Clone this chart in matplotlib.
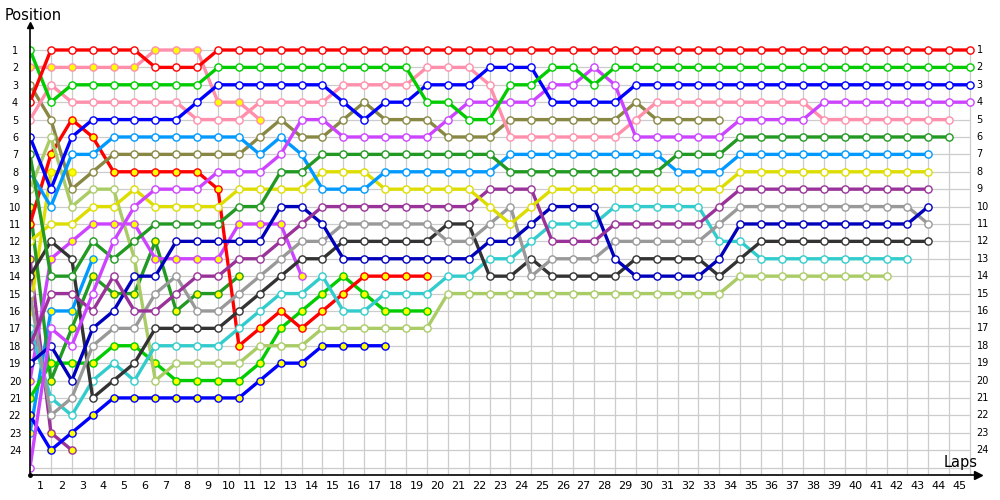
import matplotlib
matplotlib.use("Agg")
import matplotlib.pyplot as plt

laps = list(range(1, 46))
positions = list(range(1, 25))

# position per lap index (index 0 = starting grid)
red_1 = [4, 1, 1, 1, 1, 1, 2, 2, 2, 1,
         1, 1, 1, 1, 1, 1, 1, 1, 1, 1,
         1, 1, 1, 1, 1, 1, 1, 1, 1, 1,
         1, 1, 1, 1, 1, 1, 1, 1, 1, 1,
         1, 1, 1, 1, 1, 1]
lime_1 = [1, 4, 3, 3, 3, 3, 3, 3, 3, 2,
          2, 2, 2, 2, 2, 2, 2, 2, 2, 4,
          4, 5, 5, 3, 3, 2, 2, 3, 2, 2,
          2, 2, 2, 2, 2, 2, 2, 2, 2, 2,
          2, 2, 2, 2, 2, 2]
blue_1 = [6, 9, 6, 5, 5, 5, 5, 5, 4, 3,
          3, 3, 3, 3, 3, 4, 5, 4, 4, 3,
          3, 3, 2, 2, 2, 4, 4, 4, 4, 3,
          3, 3, 3, 3, 3, 3, 3, 3, 3, 3,
          3, 3, 3, 3, 3, 3]
violet_1 = [25, 17, 18, 15, 12, 10, 9, 9, 9, 8,
            8, 8, 7, 5, 5, 6, 6, 6, 6, 6,
            5, 4, 4, 4, 4, 3, 3, 2, 3, 6,
            6, 6, 6, 6, 5, 5, 5, 5, 4, 4,
            4, 4, 4, 4, 4, 4]
pink_2 = [5, 3, 4, 4, 4, 4, 4, 4, 5, 5,
          5, 4, 4, 4, 4, 3, 3, 3, 3, 2,
          2, 2, 3, 6, 6, 6, 6, 6, 6, 5,
          4, 4, 4, 4, 4, 4, 4, 4, 5, 5,
          5, 5, 5, 5, 5]
forest_1 = [7, 14, 14, 12, 13, 12, 11, 11, 11, 11,
            10, 10, 8, 8, 7, 7, 7, 7, 7, 7,
            7, 7, 7, 8, 8, 8, 8, 8, 8, 8,
            8, 7, 7, 7, 6, 6, 6, 6, 6, 6,
            6, 6, 6, 6, 6]
azure_1 = [8, 10, 7, 7, 6, 6, 6, 6, 6, 6,
           6, 7, 6, 7, 9, 9, 9, 8, 8, 8,
           8, 8, 8, 7, 7, 7, 7, 7, 7, 7,
           7, 8, 8, 8, 7, 7, 7, 7, 7, 7,
           7, 7, 7, 7]
yellow_1 = [12, 11, 11, 10, 10, 9, 10, 10, 10, 10,
            9, 9, 9, 9, 8, 8, 8, 9, 9, 9,
            9, 9, 10, 11, 10, 9, 9, 9, 9, 9,
            9, 9, 9, 9, 8, 8, 8, 8, 8, 8,
            8, 8, 8, 8]
plum_1 = [18, 15, 15, 16, 14, 16, 16, 15, 14, 14,
          13, 13, 12, 11, 10, 10, 10, 10, 10, 10,
          10, 10, 9, 9, 9, 12, 12, 12, 11, 11,
          11, 11, 11, 10, 9, 9, 9, 9, 9, 9,
          9, 9, 9, 9]
navy_1 = [19, 18, 20, 17, 16, 14, 14, 12, 12, 12,
          12, 12, 10, 10, 11, 13, 13, 13, 13, 13,
          13, 13, 12, 12, 11, 10, 10, 10, 13, 14,
          14, 14, 14, 13, 11, 11, 11, 11, 11, 11,
          11, 11, 11, 10]
grey_1 = [15, 22, 21, 18, 17, 17, 15, 14, 16, 16,
          15, 14, 13, 12, 12, 11, 11, 11, 11, 11,
          12, 12, 11, 10, 14, 13, 13, 13, 12, 12,
          12, 12, 12, 11, 10, 10, 10, 10, 10, 10,
          10, 10, 10, 11]
charcoal_1 = [14, 12, 13, 21, 20, 19, 17, 17, 17, 17,
              16, 15, 14, 13, 13, 12, 12, 12, 12, 12,
              11, 11, 14, 14, 13, 14, 14, 14, 14, 13,
              13, 13, 13, 14, 13, 12, 12, 12, 12, 12,
              12, 12, 12, 12]
cyan_1 = [17, 21, 22, 20, 19, 20, 18, 18, 18, 18,
          17, 16, 15, 15, 14, 16, 16, 15, 15, 15,
          14, 14, 13, 13, 12, 11, 11, 11, 10, 10,
          10, 10, 10, 12, 12, 13, 13, 13, 13, 13,
          13, 13, 13]
lightgreen_1 = [9, 6, 10, 9, 9, 13, 20, 19, 19, 19,
                19, 18, 18, 18, 17, 17, 17, 17, 17, 17,
                15, 15, 15, 15, 15, 15, 15, 15, 15, 15,
                15, 15, 15, 15, 14, 14, 14, 14, 14, 14,
                14, 14]
olive_1 = [3, 5, 9, 8, 7, 7, 7, 7, 7, 7,
           7, 6, 5, 6, 6, 5, 4, 5, 5, 5,
           6, 6, 6, 5, 5, 5, 5, 5, 5, 4,
           5, 5, 5, 5]
red_2 = [11, 7, 5, 6, 8, 8, 8, 8, 8, 9,
         18, 17, 16, 17, 16, 15, 14, 14, 14, 14]
lime_2 = [21, 19, 19, 19, 18, 18, 19, 20, 20, 20,
          20, 19, 17, 16, 15, 14, 15, 16, 16, 16]
blue_2 = [22, 24, 23, 22, 21, 21, 21, 21, 21, 21,
          21, 20, 19, 19, 18, 18, 18, 18]
violet_2 = [20, 13, 12, 11, 11, 11, 13, 13, 13, 13,
            11, 11, 11, 14]
pink_1 = [2, 2, 2, 2, 2, 2, 1, 1, 1, 4, 4, 5]
forest_2 = [10, 20, 17, 14, 15, 15, 12, 16, 15, 15, 14]
azure_2 = [23, 16, 16, 13]
yellow_2 = [16, 8, 8]
plum_2 = [13, 23, 24]

drivers = [
    (plum_2, "#993399", "#ffff00"),
    (yellow_2, "#dddd00", "#ffff00"),
    (azure_2, "#0099ff", "#ffff00"),
    (forest_2, "#229922", "#ffff00"),
    (pink_1, "#ff8fab", "#ffff00"),
    (violet_2, "#cc44ff", "#ffff00"),
    (blue_2, "#0000ff", "#ffff00"),
    (lime_2, "#00cc00", "#ffff00"),
    (red_2, "#ff0000", "#ffff00"),
    (olive_1, "#888844", "white"),
    (lightgreen_1, "#aacc66", "white"),
    (cyan_1, "#33cccc", "white"),
    (charcoal_1, "#333333", "white"),
    (grey_1, "#999999", "white"),
    (navy_1, "#0000bb", "white"),
    (plum_1, "#993399", "white"),
    (yellow_1, "#dddd00", "white"),
    (azure_1, "#0099ff", "white"),
    (forest_1, "#229922", "white"),
    (pink_2, "#ff8fab", "white"),
    (violet_1, "#cc44ff", "white"),
    (blue_1, "#0000ff", "white"),
    (lime_1, "#00cc00", "white"),
    (red_1, "#ff0000", "white"),
]

fig = plt.figure(figsize=(10, 5), dpi=100)
ax = fig.add_axes([0.03, 0.05, 0.948, 0.9])
ax.set_xlim(0, 45.38)
ax.set_ylim(25.43, -0.437)

# grid
for x in range(0, 46):
    ax.vlines(x, 0.8, 25.43, color="#cccccc", lw=0.9, zorder=0)
for p in range(1, 26):
    ax.hlines(p, 0, 45, color="#cccccc", lw=0.9, zorder=0)

for i, (vals, col, fill) in enumerate(drivers):
    xs = list(range(len(vals)))
    ax.plot(xs, vals, color=col, lw=2.4, marker="o", ms=5.2, mfc=fill,
            mec=col, mew=1.0, zorder=2 + i * 0.01, solid_joinstyle="round")

for s in ["top", "right"]:
    ax.spines[s].set_visible(False)
for s in ["left", "bottom"]:
    ax.spines[s].set_color("black")
    ax.spines[s].set_linewidth(1.2)

ax.set_xticks([l - 0.5 for l in laps])
ax.set_xticklabels([str(l) for l in laps], fontsize=8)
ax.tick_params(axis="x", length=0, pad=4)

ax.set_yticks(positions)
ax.set_yticklabels([str(p) for p in positions], fontsize=7)
ax.tick_params(axis="y", length=0, pad=10.8)
for lab in ax.get_yticklabels():
    lab.set_horizontalalignment("center")

for p in positions:
    ax.text(45.31, p, str(p), ha="left", va="center", fontsize=7)

# arrows
ax.plot([1], [0], marker=">", color="k", ms=6, transform=ax.transAxes, clip_on=False)
ax.plot([0], [1], marker="^", color="k", ms=4, transform=ax.transAxes, clip_on=False)
ax.plot([0], [0], marker="o", color="k", ms=2.5, transform=ax.transAxes, clip_on=False)

fig.text(0.005, 1 - 15 / 500, "Position", ha="left", va="center", fontsize=10.5)
fig.text(0.961, 1 - 463 / 500, "Laps", ha="center", va="center", fontsize=10.5)

fig.savefig("out.png", dpi=100)
